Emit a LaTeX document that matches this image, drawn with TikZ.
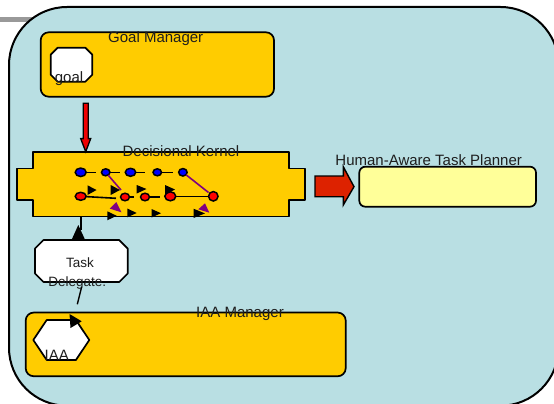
\documentclass[tikz,border=0pt]{standalone}
\usepackage{fontspec}
\setmainfont{Liberation Sans}
\usetikzlibrary{shapes.geometric,calc}
\definecolor{paneblue}{RGB}{185,223,227}
\definecolor{gold}{RGB}{255,204,0}
\definecolor{paleyellow}{RGB}{255,255,153}
\definecolor{arrowred}{RGB}{221,34,0}
\definecolor{shaftred}{RGB}{240,0,0}
\definecolor{linkpurple}{RGB}{128,0,128}
\definecolor{bargray}{RGB}{153,153,153}
\definecolor{inktext}{RGB}{30,30,30}

% octagon outline drawn around a placeholder node #1 with chamfer #2
\newcommand\chamferoutline[2]{%
  \draw[frame, fill=white]
    ([xshift=#2]#1.north west) -- ([xshift=-#2]#1.north east)
    -- ([yshift=-#2]#1.north east) -- ([yshift=#2]#1.south east)
    -- ([xshift=-#2]#1.south east) -- ([xshift=#2]#1.south west)
    -- ([yshift=#2]#1.south west) -- ([yshift=-#2]#1.north west) -- cycle;}

\begin{document}
\begin{tikzpicture}[x=1pt,y=-1pt,
  frame/.style={draw=black, line width=1.7pt, line join=round},
  panel/.style={frame, fill=gold, rounded corners=8pt, inner sep=0, outer sep=0},
  placeholder/.style={inner sep=0, outer sep=0},
  lbl/.style={font=\fontsize{15}{18}\selectfont, text=inktext, inner sep=0, anchor=base},
  smalllbl/.style={font=\fontsize{13.5}{16}\selectfont, text=inktext, inner sep=0, anchor=base},
  dotshape/.style={ellipse, draw=black, line width=1.5pt, inner sep=0, outer sep=0},
  bdot/.style={dotshape, fill=blue},
  rdot/.style={dotshape, fill=red},
  tail/.style={line width=1.6pt},
  purplelink/.style={line width=1.6pt, draw=linkpurple},
  conn/.style={line width=1.4pt}
]
\useasboundingbox (0,0) rectangle (554,404);
\path[clip] (0,0) rectangle (554,404);

% grey rule behind the frame
\fill[bargray] (0,17.3) rectangle (45,21.7);

% outer rounded pane
\draw[line width=2pt, fill=paneblue, rounded corners=58pt] (9,7) rectangle (558.5,405.7);

% ---------- Goal Manager ----------
\node[panel, minimum width=233.3, minimum height=64.4] (goalmgr) at (157.35,64.5) {};
\node[lbl] (goalmgrlbl) at (155.7,42.7) {Goal Manager};
\node[placeholder, minimum width=41.6, minimum height=34] (goal) at (71.5,64.7) {};
\chamferoutline{goal}{7}
\node[lbl] (goallbl) at (69,82) {goal};

% ---------- Decisional Kernel ----------
\node[placeholder, minimum width=256.6, minimum height=64.2] (kernel) at (161,184.4) {};
\draw[frame, fill=gold]
  (kernel.north west) -- (kernel.north east)
  -- ([yshift=15.9]kernel.east) -- ([xshift=15.7,yshift=15.9]kernel.east)
  -- ([xshift=15.7,yshift=-15.9]kernel.east) -- ([yshift=-15.9]kernel.east)
  -- (kernel.south east) -- (kernel.south west)
  -- ([yshift=-15.9]kernel.west) -- ([xshift=-16,yshift=-15.9]kernel.west)
  -- ([xshift=-16,yshift=15.9]kernel.west) -- ([yshift=15.9]kernel.west) -- cycle;
\node[lbl] (kernellbl) at (181,156.5) {Decisional Kernel};

% goal -> kernel block arrow
\coordinate (gstart) at (85.7,103.3);
\coordinate (gtip) at (gstart |- kernel.north);
\draw[line width=1.3pt, fill=shaftred, line join=miter]
  ([xshift=-2.5]gstart) -- ([xshift=2.5]gstart)
  -- ($(gtip)+(2.5,-13.7)$) -- ($(gtip)+(5,-13.7)$) -- ($(gtip)+(0,-0.6)$)
  -- ($(gtip)+(-5,-13.7)$) -- ($(gtip)+(-2.5,-13.7)$) -- cycle;

% plan graph inside the kernel
\node[bdot, minimum width=11, minimum height=8.5] (b1) at (80.7,172.3) {};
\node[bdot, minimum width=8.5, minimum height=7] (b2) at (105.7,172.3) {};
\node[bdot, minimum width=10.5, minimum height=8] (b3) at (130.5,172.3) {};
\node[bdot, minimum width=8.5, minimum height=7] (b4) at (157.3,172.3) {};
\node[bdot, minimum width=8.5, minimum height=7.5] (b5) at (182.9,172.3) {};
\coordinate (b1t) at (96,172.3);
\coordinate (b2t) at (120,172.3);
\coordinate (b3t) at (145,172.3);
\coordinate (b4t) at (173.3,172.3);
\draw[tail] (b1) -- (b1t);
\draw[tail] (b2) -- (b2t);
\draw[tail] (b3) -- (b3t);
\draw[tail] (b4) -- (b4t);

\node[rdot, minimum width=11, minimum height=8] (r1) at (80.7,196.3) {};
\node[rdot, minimum width=9, minimum height=7.5] (r2) at (125,197) {};
\node[rdot, minimum width=9, minimum height=7.5] (r3) at (145,197) {};
\node[rdot, minimum width=11, minimum height=9] (r4) at (170.3,196.3) {};
\node[rdot, minimum width=9.5, minimum height=9.5] (r5) at (213.3,196.3) {};
\coordinate (r1t) at (116,198.3);
\coordinate (r2t) at (134,197);
\coordinate (r3t) at (160,197);
\draw[tail] (r1) -- (r1t);
\draw[tail] (r2) -- (r2t);
\draw[tail] (r3) -- (r3t);
\draw[tail] (r4) -- (r5);

\coordinate (p1) at (121,190);
\coordinate (p2) at (208.5,192.5);
\draw[purplelink] (b2) -- (p1);
\draw[purplelink] (b5) -- (p2);
\fill[linkpurple] (116.3,202) -- (109.7,208.6) -- (121.4,212.3) -- cycle;
\fill[linkpurple] (205,203.3) -- (198.3,209.3) -- (209.3,212.7) -- cycle;

% step flags
\fill (87.5,185.3) -- (96.5,190) -- (87.5,195) -- cycle;
\fill (110.7,185) -- (120,190) -- (110.7,195) -- cycle;
\fill (136.7,185) -- (146.5,189) -- (136.7,193.5) -- cycle;
\fill (165,185) -- (175,189.5) -- (165,195) -- cycle;
\fill (107.3,211.3) -- (116.7,215.8) -- (107.3,220.3) -- cycle;
\fill (127.3,208.5) -- (136.7,213) -- (127.3,217.3) -- cycle;
\fill (151.5,209) -- (161,213.2) -- (151.5,217.5) -- cycle;
\fill (193.5,208.7) -- (205,213.4) -- (193.5,218) -- cycle;

% ---------- Human-Aware Task Planner ----------
\node[frame, fill=paleyellow, rounded corners=6pt, inner sep=0, outer sep=0,
      minimum width=176.7, minimum height=40] (planner) at (447.65,186.7) {};
\node[lbl] (plannerlbl) at (428.7,165) {Human-Aware Task Planner};
\draw[line width=1.4pt, fill=arrowred, line join=miter]
  (315,176) -- (343.3,176) -- (343.3,166.7) -- ([xshift=-5.3]planner.west)
  -- (343.3,205) -- (343.3,196.7) -- (315,196.7) -- cycle;

% ---------- Task Delegate ----------
\node[placeholder, minimum width=92.7, minimum height=42] (task) at (81.35,261) {};
\chamferoutline{task}{8.5}
\node[smalllbl] (tasklbl) at (80,267.3) {Task};
\node[smalllbl] (delegatelbl) at (77.2,286.7) {Delegate.};

% task -> kernel
\coordinate (tkin) at (81,230);
\draw[conn] (tkin) -- (tkin |- kernel.south);
\fill (71.7,239.6) -- (85,239.6) -- (78.3,225) -- cycle;

% task -> IAA
\coordinate (tdout) at (81.7,286.7);
\coordinate (tdend) at (77.3,304.3);
\draw[conn] (tdout) -- (tdend);

% ---------- IAA Manager ----------
\node[panel, minimum width=320, minimum height=63.7] (iaamgr) at (185.7,344.4) {};
\node[lbl] (iaamgrlbl) at (240,317.3) {IAA Manager};
\node[placeholder, minimum width=56, minimum height=40] (iaa) at (61.3,340) {};
\draw[frame, fill=white]
  (iaa.west) -- ([xshift=13.4]iaa.north west) -- ([xshift=-13.4]iaa.north east)
  -- (iaa.east) -- ([xshift=-13.4]iaa.south east) -- ([xshift=13.4]iaa.south west) -- cycle;
\node[lbl] (iaalbl) at (56.7,360) {IAA};
\fill (69.5,314) -- (81.7,321.3) -- (70.5,328) -- cycle;

\end{tikzpicture}
\end{document}
